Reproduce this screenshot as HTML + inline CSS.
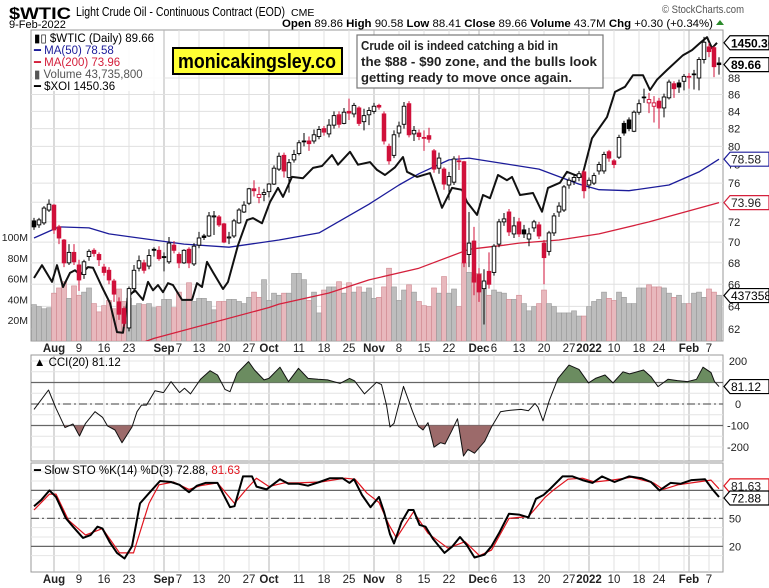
<!DOCTYPE html>
<html><head><meta charset="utf-8"><style>
html,body{margin:0;padding:0;background:#fff;}
svg{display:block;font-family:"Liberation Sans",Arial,sans-serif;}
</style></head><body>
<svg id="chart" xmlns="http://www.w3.org/2000/svg" width="769" height="588" viewBox="0 0 769 588">
<rect x="0" y="0" width="769" height="588" fill="#fff"/>
<g>
<text x="9" y="19" font-size="17" font-weight="bold" textLength="62" lengthAdjust="spacingAndGlyphs">$WTIC</text>
<text x="76" y="16" font-size="12.5" textLength="209" lengthAdjust="spacingAndGlyphs">Light Crude Oil - Continuous Contract (EOD)</text>
<text x="291" y="16" font-size="10.5">CME</text>
<text x="9" y="28" font-size="11">9-Feb-2022</text>
<text x="662" y="13" font-size="11" fill="#555" textLength="82" lengthAdjust="spacingAndGlyphs">© StockCharts.com</text>
<text x="282" y="27" font-size="11" textLength="431" lengthAdjust="spacingAndGlyphs"><tspan font-weight="bold">Open</tspan> 89.86 <tspan font-weight="bold">High</tspan> 90.58 <tspan font-weight="bold">Low</tspan> 88.41 <tspan font-weight="bold">Close</tspan> 89.66 <tspan font-weight="bold">Volume</tspan> 43.7M <tspan font-weight="bold">Chg</tspan> +0.30 (+0.34%)</text>
<path d="M716 25 L720 20 L724 25 Z" fill="#2a8a2a"/>
</g>
<g id="grid"></g>
<g id="plots"></g>
<g id="overlay"></g>
</svg>
<script>
// ---------- DATA ----------
const openArr=[72.1,71.7,71.9,73.2,73.7,71.5,70.2,68.0,69.0,67.8,66.9,68.6,69.2,68.8,67.6,67.3,66.3,64.4,63.8,62.1,65.6,67.5,68.0,67.7,69.3,69.2,68.6,68.1,69.7,68.8,68.0,69.3,67.9,69.7,70.6,70.6,72.5,72.5,71.8,70.4,70.6,71.9,73.0,73.9,75.4,74.5,74.8,75.1,75.9,77.5,79.0,76.6,78.5,79.2,80.5,80.6,80.6,81.1,82.0,81.4,82.4,83.6,82.6,84.0,83.7,84.4,82.8,83.6,84.0,84.7,83.7,80.0,79.0,81.5,82.5,84.9,81.4,81.5,80.9,81.2,79.5,77.6,77.5,75.8,76.1,78.4,78.3,68.8,70.1,66.9,65.6,67.2,67.1,69.8,72.0,73.0,70.8,72.0,71.2,70.3,71.4,71.7,69.9,69.1,70.9,73.0,73.2,75.8,76.2,76.6,77.2,75.8,76.0,77.3,77.3,79.4,78.4,78.8,82.6,83.0,81.7,83.9,85.7,85.0,84.6,85.2,84.4,85.6,87.3,87.4,87.6,88.2,88.4,88.0,90.3,91.9,91.8,89.86];
const closeArr=[71.5,72.2,73.4,73.8,71.2,70.4,68.0,69.0,68.1,66.4,68.1,69.1,68.9,68.3,67.1,66.4,65.1,63.3,62.5,65.6,67.3,68.2,67.3,68.7,69.2,68.4,68.5,69.9,69.2,68.0,69.2,68.0,69.6,70.4,70.45,72.6,72.6,71.7,70.0,70.5,72.1,73.2,73.7,75.4,75.2,74.8,75.0,75.9,77.6,78.9,77.3,78.2,79.1,80.4,80.6,80.3,81.3,81.9,81.6,82.4,83.5,82.5,83.9,83.8,84.7,82.6,83.5,84.1,84.6,84.5,80.6,78.4,81.3,82.3,84.6,81.3,81.8,81.1,81.0,80.8,77.5,78.7,75.9,76.7,78.6,78.3,68.0,69.9,66.2,65.3,66.3,66.0,69.6,72.0,72.3,71.0,71.6,70.8,70.8,70.8,72.0,70.6,68.5,70.9,72.6,73.6,75.6,76.3,76.6,77.0,75.2,76.3,76.8,78.0,79.1,78.7,78.0,81.0,81.5,82.0,83.9,84.9,85.6,85.4,85.0,84.4,85.7,87.5,86.7,86.9,88.2,88.1,88.5,90.3,92.5,91.3,89.4,89.66];
const highArr=[72.4,72.4,73.6,74.3,73.8,71.7,70.3,69.8,69.8,68.3,68.3,69.3,69.4,69.0,67.9,67.6,66.5,64.8,64.0,65.8,67.8,68.7,68.3,69.3,69.5,69.6,69.0,70.5,70.1,69.0,69.3,69.5,69.9,71.0,70.8,73.0,73.1,72.7,71.9,71.0,72.3,73.4,74.1,75.5,76.3,75.6,75.4,76.0,77.9,79.3,79.3,78.6,79.6,80.7,81.5,81.1,81.9,82.3,82.3,83.1,84.0,84.0,84.4,85.5,85.0,84.6,84.3,84.5,85.0,84.9,84.0,80.3,81.8,82.8,85.1,85.2,82.3,81.9,81.8,82.1,79.7,79.3,77.7,77.2,78.9,79.0,78.4,73.0,71.5,67.5,67.4,69.0,69.8,72.3,72.9,73.3,72.5,72.4,71.7,71.4,72.2,72.0,70.2,71.1,72.9,74.0,75.8,76.6,77.0,77.3,77.4,76.6,77.1,78.3,79.4,79.6,78.6,81.3,82.9,83.3,84.1,85.4,86.7,86.2,85.8,85.6,86.1,87.8,87.6,87.8,88.5,88.6,89.0,90.6,93.2,92.4,92.0,90.58];
const lowArr=[71.2,71.4,71.7,73.0,70.8,69.8,67.6,67.8,67.8,65.4,66.5,68.2,68.6,67.7,66.8,66.0,64.4,62.8,62.2,61.8,65.2,67.2,67.0,67.4,68.6,68.2,67.2,67.9,68.9,67.5,67.9,67.5,67.7,69.4,70.2,70.5,70.7,71.5,69.9,69.8,70.4,71.8,72.9,73.7,74.6,73.9,74.1,74.5,75.8,77.3,76.6,75.0,78.2,79.0,80.0,79.5,80.3,80.8,81.2,81.0,82.0,82.1,82.5,83.0,83.3,82.3,81.8,82.4,83.7,84.2,80.2,78.0,78.7,81.0,82.0,81.0,80.6,80.7,79.5,80.4,77.1,77.0,75.3,74.2,75.8,77.4,67.6,67.6,65.0,64.4,62.4,65.6,66.8,69.5,71.6,70.6,70.4,70.5,70.4,69.6,71.0,70.3,66.0,68.7,70.6,72.5,73.0,75.4,75.8,76.2,74.4,75.4,75.8,76.9,77.0,78.3,77.6,78.6,81.2,81.7,81.6,83.6,85.0,83.8,82.7,82.0,83.3,85.4,85.6,86.2,86.5,86.7,86.6,86.5,89.8,90.6,88.1,88.41];
const volArr=[35,33,31,32,46,51,57,41,53,44,47,51,36,28,34,39,31,50,38,41,34,36,35,36,32,33,40,40,32,47,39,56,38,41,41,38,30,38,38,40,40,38,36,42,47,42,59,39,46,44,46,46,65,65,59,39,47,27,49,52,52,57,46,56,47,52,47,51,41,42,52,70,52,39,49,54,47,38,34,33,51,46,62,46,50,33,75,66,61,65,56,44,49,47,46,40,40,44,36,29,33,36,49,36,33,27,27,27,29,24,24,33,38,40,47,41,39,47,42,36,36,51,51,54,52,52,51,46,42,44,36,36,46,47,42,50,47,44];
const ma50Day=[0,5,11,15,30,39,49,57,67,73,77,83,87,94,101,109,113,119,127,133,137];
const ma50Val=[70.4,71.5,71.4,70.8,69.8,69.5,70.2,70.9,73.8,75.8,77.0,78.5,78.7,78.1,77.5,75.9,75.3,75.2,75.8,77.2,78.58];
const ma200Day=[20,24,47,49,59,67,77,87,94,97,105,113,123,137];
const ma200Val=[60.6,61.2,63.9,64.2,65.2,66.4,67.5,69.3,69.7,69.9,70.2,70.8,72.0,73.96];
const xoiDay=[0,1.6,3.6,4.6,5.8,7.2,8.2,9.2,10.8,11.8,13.6,15.2,16.6,17.8,18.8,20.2,21.8,22.8,23.8,24.8,25.8,26.8,27.8,29.6,31.6,32.6,33.6,34.6,35.8,37.8,38.8,40.8,42.6,43.8,45.6,47.2,48.8,49.8,51.6,53.8,55.8,57.6,59.6,60.8,63.2,64.8,67.2,68.6,70.2,72.2,73.8,74.6,76.6,79.2,81.6,83.6,85.6,86.6,88.6,89.8,91.2,92.8,94.6,95.6,97.2,99.8,101.6,102.8,105.2,106.6,108.2,109.6,111.6,114.6,116.2,118.2,119.8,121.8,123.2,124.6,126.6,129.8,131.6,133.2,134.6,135.6,136.6];
const xoiVal=[1085,1105,1079,1105,1071,1093,1097,1090,1102,1101,1071,1046,1001,1000,1056,1066,1051,1079,1066,1074,1063,1077,1074,1051,1051,1077,1071,1110,1094,1068,1079,1136,1175,1178,1170,1203,1225,1211,1242,1240,1256,1259,1276,1261,1281,1261,1265,1253,1245,1257,1273,1250,1242,1248,1194,1225,1222,1203,1183,1214,1209,1245,1237,1242,1214,1217,1188,1225,1233,1250,1245,1242,1302,1335,1374,1382,1400,1400,1377,1393,1408,1431,1439,1450,1459,1442,1450.36];
const cciDay=[0,2.9,4.4,6.2,7.8,9.1,10.3,12.2,13.7,14.7,16.2,17.6,19.6,20.6,21.5,22.5,24.2,25.9,27.4,29.1,30.1,31.3,33.3,35.2,36.7,38.2,39.2,40.6,42.9,44.1,46.0,47.0,49.2,50.9,52.9,54.8,56.8,58.7,61.2,63.1,64.1,66.1,68.5,69.5,70.5,71.2,72.0,73.9,75.7,76.9,77.8,78.8,80.0,81.3,82.2,83.5,84.7,85.9,86.8,88.1,90.1,91.5,93.3,94.5,95.9,97.4,98.9,100.2,100.8,101.8,103.1,104.8,107.0,109.0,110.9,112.3,114.2,115.8,117.8,119.1,121.9,123.4,124.8,126.8,128.7,130.7,132.5,133.8,135.4,136.1,137];
const cciVal=[-25,65,-20,-110,-93,-149,-90,-36,-62,-102,-121,-180,-107,-36,-5,-5,62,53,104,53,73,47,115,155,135,68,57,143,197,158,112,119,171,104,166,119,115,112,96,119,108,47,101,90,-5,-107,-90,82,-34,-104,-121,-87,-201,-180,-186,-127,-69,-242,-211,-229,-175,-107,-36,-31,-28,-25,-31,3,-15,-78,19,119,181,161,98,119,135,98,150,140,158,127,81,115,109,104,115,171,146,104,81.12];
const stoKDay=[0,1.5,3.1,4.4,6.4,7.8,9.8,11.3,12.7,13.7,15.2,16.6,18.1,19.6,21.2,23,25.2,27.4,29.1,31,32.6,34.3,36.7,39.2,40.1,41.8,43.6,44.5,46.5,49.2,50.9,52.9,54.8,57.1,59.2,61.7,63.1,64,65.6,67.3,69,70,71.2,72,73.5,74.9,75.9,77.1,78.3,79.8,82.1,83.7,85.2,86.6,88.1,90.1,91.5,93,95,97,98.9,100.4,101.9,103.3,105.7,107.7,109.7,111.7,113.6,116.1,119,121.5,123.4,125.1,127.3,129.3,131.5,134.2,135.7,137];
const stoKVal=[63,70,80,73,50,41,29,32,41,39,24,13,7,20,66,77,90,89,86,78,85,88,88,62,63,95,95,84,81,92,87,87,85,89,93,93,88,92,75,62,73,57,33,23,46,59,59,43,41,28,13,20,30,21,8,11,20,34,55,54,51,71,75,82,95,95,91,88,95,89,95,93,89,80,88,87,91,92,81,72.88];
const stoDDay=[0,3.1,4.4,6.9,10.3,13.7,17.1,19.9,23,25,27.9,31,33.3,36.7,40.1,42.6,44.5,47,50,52.9,57.3,62.2,64.2,66.6,69,71,72.5,75.9,78.8,82.8,86.2,89.1,91.5,95,98.9,102.3,103.8,106.8,109.7,112.1,115.5,119.5,123.9,125.8,128.8,132.7,135.4,137];
const stoDVal=[59,76,76,48,32,39,13,13,66,86,89,81,85,88,66,82,93,84,88,88,89,93,92,77,67,43,29,57,34,18,25,10,16,50,52,73,80,92,93,89,91,94,88,81,86,89,91,81.63];
const priceTicks=[62,64,66,68,70,72,74,76,78,80,82,84,86,88];
const volTicks=[20,40,60,80,100];
const volTickLabels=["20M","40M","60M","80M","100M"];
const dateTickDay=[4,9,14,19,26,29,33,38,43,47,53,58,63,68,73,78,83,89,92,97,102,107,111,116,121,125,131,135];
const dateTickLabel=["Aug","9","16","23","Sep","7","13","20","27","Oct","11","18","25","Nov","8","15","22","Dec","6","13","20","27","2022","10","18","24","Feb","7"];
const monthTick=[true,false,false,false,true,false,false,false,false,true,false,false,false,true,false,false,false,true,false,false,false,false,true,false,false,false,true,false];
const extraGridDay=[24,87,130];
const cciTicks=[200,100,0,-100,-200];
const stoTicks=[20,50,80];

// ---------- AXES ----------
const L=31,R=723, MT=30,MB=341, CT=355,CB=461, ST=463,SB=572;
const xOf=i=>34+5*i;
const yP=p=>78+Math.log(88/p)*717;
const yV=v=>341-v*1.04;
const yX=v=>43+(1450-v)/1.553;
const yC=v=>404-v*0.215;
const yS=v=>565-v*0.933;
const NS="http://www.w3.org/2000/svg";
function mk(parent,tag,attrs){const e=document.createElementNS(NS,tag);for(const k in attrs)e.setAttribute(k,attrs[k]);parent.appendChild(e);return e;}
const grid=document.getElementById('grid'),plots=document.getElementById('plots'),ov=document.getElementById('overlay');

const defs=mk(document.getElementById('chart'),'defs',{});
const cp1=mk(defs,'clipPath',{id:'mainClip'});mk(cp1,'rect',{x:L,y:MT,width:R-L,height:MB-MT});
const cpG=mk(defs,'clipPath',{id:'cciUp'});mk(cpG,'rect',{x:L,y:CT,width:R-L,height:yC(100)-CT});
const cpB=mk(defs,'clipPath',{id:'cciDn'});mk(cpB,'rect',{x:L,y:yC(-100),width:R-L,height:CB-yC(-100)});

[[MT,MB,'price-panel'],[CT,CB,'cci-panel'],[ST,SB,'stochastic-panel']].forEach(p=>{
  const r=mk(grid,'rect',{x:L,y:p[0],width:R-L,height:p[1]-p[0],fill:'#fff',stroke:'#999','stroke-width':1});
  
  
});
function vline(d,strong){
  [[MT,MB],[CT,CB],[ST,SB]].forEach(p=>{
    const l=mk(grid,'line',{x1:xOf(d),x2:xOf(d),y1:p[0],y2:p[1],stroke:strong?'#b4b4b4':'#e0e0e0','stroke-width':1});
    
    
  });
}
dateTickDay.forEach((d,k)=>vline(d,monthTick[k]));
extraGridDay.forEach(d=>vline(d,false));
priceTicks.forEach(p=>{
  const l=mk(grid,'line',{x1:L,x2:R,y1:yP(p),y2:yP(p),stroke:'#e0e0e0'});
  
  
  const t=mk(grid,'text',{x:728,y:yP(p)+4,'font-size':11,fill:'#222'});t.textContent=p;
  
  
});
volTicks.forEach((v,k)=>{
  const t=mk(grid,'text',{x:28,y:yV(v)+4,'font-size':10.5,'text-anchor':'end',fill:'#222'});t.textContent=volTickLabels[k];
  
  
});
[347,578].forEach(yy=>{
  dateTickDay.forEach((d,k)=>{
    const t=mk(grid,'text',{x:xOf(d),y:yy+5,'font-size':11.5,'text-anchor':'middle','font-weight':monthTick[k]?'bold':'normal',fill:'#222'});
    t.textContent=dateTickLabel[k];
    
    
  });
});
for(let v=-200;v<=200;v+=50){const l=mk(grid,'line',{x1:L,x2:R,y1:yC(v),y2:yC(v),stroke:'#e4e4e4'});}
cciTicks.forEach(v=>{
  const t=mk(grid,'text',{x:738,y:yC(v)+4,'font-size':11,fill:'#222','text-anchor':'middle'});t.textContent=v;
  
  
});
[[100,'none'],[-100,'none'],[0,'8 3 2 3']].forEach(a=>{
  const l=mk(grid,'line',{x1:L,x2:R,y1:yC(a[0]),y2:yC(a[0]),stroke:'#666','stroke-width':1.2,'stroke-dasharray':a[1]});
  
  
});
for(let v=10;v<=100;v+=10){const l=mk(grid,'line',{x1:L,x2:R,y1:yS(v),y2:yS(v),stroke:'#e4e4e4'});}
stoTicks.forEach(v=>{
  const t=mk(grid,'text',{x:735,y:yS(v)+4,'font-size':11,fill:'#222','text-anchor':'middle'});t.textContent=v;
  
  
});
[[80,'none'],[20,'none'],[50,'8 3 2 3']].forEach(a=>{
  const l=mk(grid,'line',{x1:L,x2:R,y1:yS(a[0]),y2:yS(a[0]),stroke:'#666','stroke-width':1.2,'stroke-dasharray':a[1]});
  
  
});

const mg=mk(plots,'g',{'clip-path':'url(#mainClip)'});
volArr.forEach((v,i)=>{
  const down=i>0&&closeArr[i]<closeArr[i-1];
  const b=mk(mg,'rect',{x:xOf(i)-2.5,y:yV(v),width:5,height:341-yV(v),fill:down?'#e8b8bd':'#bdbdbd',stroke:down?'#d08890':'#999','stroke-width':0.6});
  
  
});
function polyline(par,days,vals,yf,color,w,name){
  const pts=days.map((d,k)=>xOf(d).toFixed(1)+','+yf(vals[k]).toFixed(1)).join(' ');
  const p=mk(par,'polyline',{points:pts,fill:'none',stroke:color,'stroke-width':w,'stroke-linejoin':'round'});
  
  
  return p;
}
polyline(mg,ma200Day,ma200Val,yP,'#d4203c',1.3,'ma200-line');
polyline(mg,ma50Day,ma50Val,yP,'#1c1c9a',1.3,'ma50-line');
polyline(mg,xoiDay,xoiVal,yX,'#111',2,'xoi-line');
closeArr.forEach((c,i)=>{
  const o=openArr[i],h=highArr[i],lo=lowArr[i];
  const col=(i>0&&c<closeArr[i-1])?'#d0103a':'#000';
  const x=xOf(i);
  const w=mk(mg,'line',{x1:x,x2:x,y1:yP(h),y2:yP(lo),stroke:col,'stroke-width':1});
  
  
  const top=yP(Math.max(o,c)),bot=yP(Math.min(o,c));
  const b=mk(mg,'rect',{x:x-1.8,y:top,width:3.6,height:Math.max(bot-top,0.8),fill:c<o?col:'#fff',stroke:col,'stroke-width':0.9});
  
  
});

const cciPts=cciDay.map((d,k)=>[xOf(d),yC(cciVal[k])]);
const polyStr=(base)=>cciPts.map(p=>p[0].toFixed(1)+','+p[1].toFixed(1)).join(' ')+' '+xOf(cciDay[cciDay.length-1])+','+base+' '+xOf(cciDay[0])+','+base;
const g1=mk(plots,'polygon',{points:polyStr(yC(100)),fill:'#6b8c60','clip-path':'url(#cciUp)'});


const g2=mk(plots,'polygon',{points:polyStr(yC(-100)),fill:'#9c6a6a','clip-path':'url(#cciDn)'});


polyline(plots,cciDay,cciVal,yC,'#111',1,'cci-line');

polyline(plots,stoDDay,stoDVal,yS,'#e0141e',1.2,'sto-d-line');
polyline(plots,stoKDay,stoKVal,yS,'#000',2,'sto-k-line');

function tag(y,txt,color,bold,name){
  const g=mk(ov,'g',{});
  
  
  mk(g,'path',{d:`M724 ${y} L730 ${y-7} L769 ${y-7} L769 ${y+7} L730 ${y+7} Z`,fill:'#fff',stroke:color,'stroke-width':1.2});
  const t=mk(g,'text',{x:731,y:y+4.5,'font-size':12,'font-weight':bold?'bold':'normal',fill:color==='#000'?'#000':'#222'});t.textContent=txt;
}
tag(yX(1450.36),'1450.36','#000',true,'xoi-value-tag');
tag(yP(89.66),'89.66','#000',true,'close-value-tag');
tag(yP(78.58),'78.58','#1c1c9a',false,'ma50-value-tag');
tag(yP(73.96),'73.96','#d4203c',false,'ma200-value-tag');
tag(yV(43.7),'43735800','#000',false,'volume-value-tag');
tag(yC(81.12),'81.12','#000',false,'cci-value-tag');
tag(yS(81.63)-3,'81.63','#e0141e',false,'sto-d-value-tag');
tag(yS(72.88)+1,'72.88','#000',false,'sto-k-value-tag');
</script>
<svg style="position:absolute;left:0;top:0" width="769" height="588">
<g font-family="Liberation Sans, Arial, sans-serif">
<g font-size="11.5">
<rect x="33" y="31" width="130" height="60" fill="#fff" opacity="0.85"/>
<text x="34" y="42">▮▯ $WTIC (Daily) 89.66</text>
<text x="34" y="54" fill="#1c1c9a">━ MA(50) 78.58</text>
<text x="34" y="66" fill="#d4203c">━ MA(200) 73.96</text>
<text x="34" y="78" fill="#555">▮ Volume 43,735,800</text>
<text x="34" y="90">━ $XOI 1450.36</text>
</g>
<g>
<rect x="173" y="48" width="169" height="26" fill="#ffff33" stroke="#000" stroke-width="2"/>
<text x="178" y="68" font-size="20" font-weight="bold" textLength="158" lengthAdjust="spacingAndGlyphs">monicakingsley.co</text>
</g>
<g>
<rect x="357" y="35" width="246" height="53" fill="#fff" stroke="#777" stroke-width="1.2"/>
<text x="361" y="50" font-size="13" font-weight="bold" fill="#222" textLength="197" lengthAdjust="spacingAndGlyphs">Crude oil is indeed catching a bid in</text>
<text x="361" y="66" font-size="13" font-weight="bold" fill="#222" textLength="236" lengthAdjust="spacingAndGlyphs">the $88 - $90 zone, and the bulls look</text>
<text x="361" y="82" font-size="13" font-weight="bold" fill="#222" textLength="211" lengthAdjust="spacingAndGlyphs">getting ready to move once again.</text>
</g>
<g>
<text x="34" y="366" font-size="11.5">▲ CCI(20) 81.12</text>
</g>
<g>
<text x="34" y="474" font-size="11.5">━ Slow STO %K(14) %D(3) 72.88, <tspan fill="#e0141e">81.63</tspan></text>
</g>
</g>
</svg>
</body></html>
